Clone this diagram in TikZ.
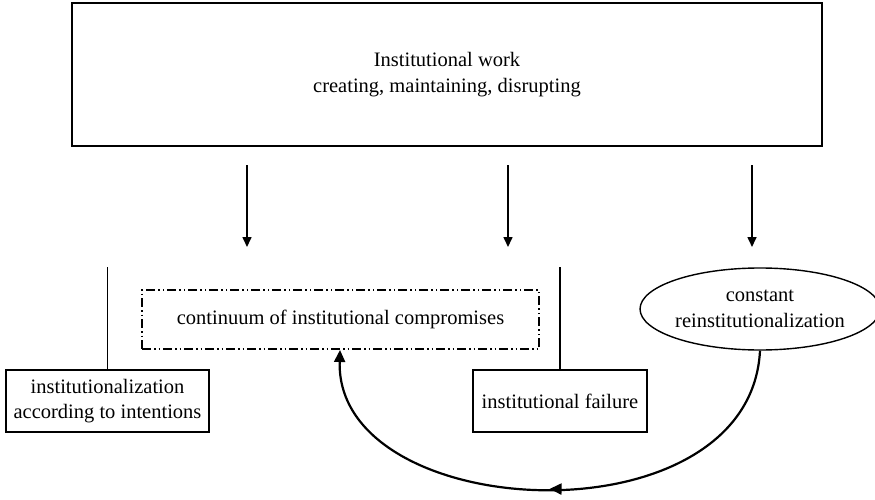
\documentclass[tikz,border=0pt]{standalone}
\usepackage{fontspec}
\setmainfont{Liberation Serif}
\usetikzlibrary{arrows.meta,shapes.geometric,decorations.markings}
\tikzset{
  txt/.style={font=\fontsize{20.5}{25.5}\selectfont},
  box/.style={draw, line width=1.4pt, inner sep=0pt, align=center, txt},
  dashbox/.style={draw, line width=1.1pt, inner sep=0pt, align=center, txt,
    dash pattern=on 9pt off 3pt on 1.5pt off 3pt on 1.5pt off 3pt},
  oval/.style={draw, ellipse, line width=1.4pt, inner sep=0pt, align=center, txt},
  downarrow/.style={line width=1.6pt, -{Triangle[length=10pt,width=9pt]}},
  plainline/.style={line width=1.4pt},
  loop/.style={line width=2.2pt, -{Triangle[length=12pt,width=11pt]},
    postaction={decorate},
    decoration={markings, mark=at position 0.5 with {\arrow{Triangle[length=12pt,width=11pt]}}}}
}
\begin{document}
\begin{tikzpicture}[x=1pt,y=-1pt]
\useasboundingbox (0,0) rectangle (875,500);
\node[box, minimum width=750pt, minimum height=143pt] (top) at (447,74.5)
  {Institutional work\\creating, maintaining, disrupting};
\node[dashbox, minimum width=397pt, minimum height=59pt] (cont) at (340.5,319.5)
  {continuum of institutional compromises};
\node[box, minimum width=203pt, minimum height=62pt] (intent) at (107.5,401)
  {institutionalization\\according to intentions};
\node[box, minimum width=174pt, minimum height=62pt] (fail) at (560,401)
  {institutional failure};
\node[oval, minimum width=227pt, minimum height=82pt] (reinst) at (760,309)
  {constant\\reinstitutionalization};
% free ends
\coordinate (a1s) at (247,165); \coordinate (a1e) at (247,247);
\coordinate (a2s) at (508,165); \coordinate (a2e) at (508,247);
\coordinate (a3s) at (752,165); \coordinate (a3e) at (752,247);
\coordinate (l1) at (107.5,267);
\coordinate (l2) at (560,267);
\coordinate (loopend) at (340,350);
\draw[downarrow] (a1s) -- (a1e);
\draw[downarrow] (a2s) -- (a2e);
\draw[downarrow] (a3s) -- (a3e);
\draw[plainline] (l1) -- (intent.north);
\draw[plainline] (l2) -- (fail.north);
\draw[loop] (reinst.south) .. controls (750,545) and (335,525) .. (loopend);
\end{tikzpicture}
\end{document}
